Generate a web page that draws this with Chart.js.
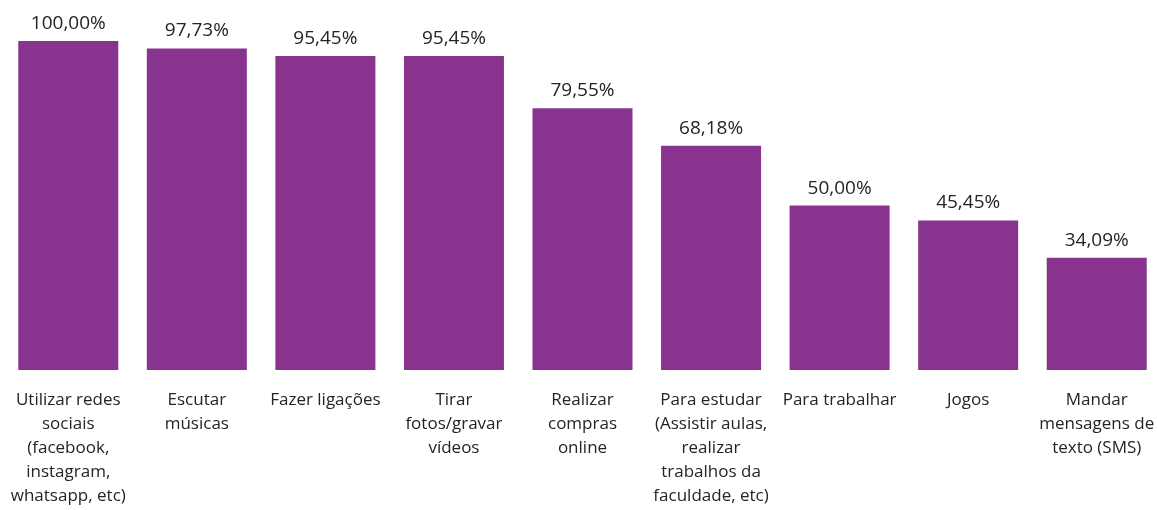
<!DOCTYPE html>
<html>
<head>
<meta charset="utf-8">
<script src="https://cdn.jsdelivr.net/npm/chart.js@4"></script>
<style>
  body { margin: 0; background: #fff; overflow: hidden; }
</style>
</head>
<body>
<!-- slightly wider than the window: the original's last column is cut at the right edge -->
<canvas id="usageChart" width="1161" height="510"></canvas>
<script>
// Categories (already wrapped as in the reference)
const categories = [
    ['Utilizar redes', 'sociais', '(facebook,', 'instagram,', 'whatsapp, etc)'],
    ['Escutar', 'músicas'],
    ['Fazer ligações'],
    ['Tirar', 'fotos/gravar', 'vídeos'],
    ['Realizar', 'compras', 'online'],
    ['Para estudar', '(Assistir aulas,', 'realizar', 'trabalhos da', 'faculdade, etc)'],
    ['Para trabalhar'],
    ['Jogos'],
    ['Mandar', 'mensagens de', 'texto (SMS)']
];
const percentages = [100.00, 97.73, 95.45, 95.45, 79.55, 68.18, 50.00, 45.45, 34.09];

const fontFamily = '"Open Sans", "Noto Sans", sans-serif';
const textColor = '#252423';

// Draw value labels above each bar
const valueLabels = {
    id: 'valueLabels',
    afterDatasetsDraw(chart) {
        const ctx = chart.ctx;
        const meta = chart.getDatasetMeta(0);
        ctx.save();
        ctx.font = '19px ' + fontFamily;
        ctx.fillStyle = textColor;
        ctx.textAlign = 'center';
        ctx.textBaseline = 'alphabetic';
        meta.data.forEach((bar, i) => {
            const text = percentages[i].toFixed(2).replace('.', ',') + '%';
            ctx.fillText(text, bar.x, bar.y - 12);
        });
        ctx.restore();
    }
};

const ctx = document.getElementById('usageChart').getContext('2d');
new Chart(ctx, {
    type: 'bar',
    data: {
        labels: categories,
        datasets: [{
            data: percentages,
            backgroundColor: '#88348f',
            categoryPercentage: 1,
            barPercentage: 0.778
        }]
    },
    options: {
        responsive: false,
        animation: false,
        layout: {
            padding: { top: 41, left: 4, right: 0, bottom: 0 }
        },
        plugins: {
            legend: { display: false },
            tooltip: { enabled: false }
        },
        scales: {
            y: {
                display: false,
                min: 0,
                max: 100
            },
            x: {
                grid: { display: false, drawTicks: false },
                border: { display: false },
                ticks: {
                    autoSkip: false,
                    maxRotation: 0,
                    minRotation: 0,
                    padding: 18,
                    color: textColor,
                    font: { family: fontFamily, size: 17, lineHeight: 1.41 }
                },
                afterFit(scale) {
                    // labels may overflow the edges, like the original
                    scale.height = 140;
                    scale.paddingLeft = 0;
                    scale.paddingRight = 0;
                }
            }
        }
    },
    plugins: [valueLabels]
});
</script>
</body>
</html>
